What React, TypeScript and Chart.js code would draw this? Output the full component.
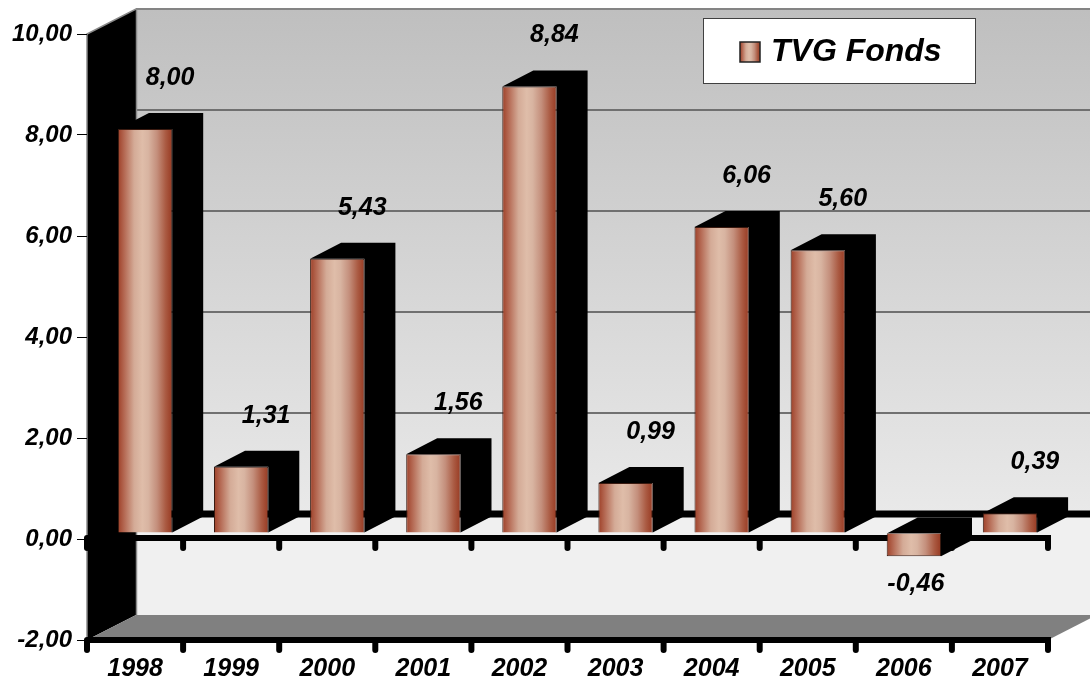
import React, { useEffect, useRef } from 'react';
import { Chart, registerables } from 'chart.js';

Chart.register(...registerables);

// ---- data ----
const years = ['1998', '1999', '2000', '2001', '2002', '2003', '2004', '2005', '2006', '2007'];
const fundReturns = [8.0, 1.31, 5.43, 1.56, 8.84, 0.99, 6.06, 5.6, -0.46, 0.39];
const seriesName = 'TVG Fonds';
const yMin = -2;
const yMax = 10;
const yStep = 2;

// ---- style ----
const FONT = '"Liberation Sans", Arial, Helvetica, sans-serif';
const WALL = { dx: 49, dy: -25 };
const BAR_OFF = { dx: 10, dy: -6 };
const BAR_DEPTH = { dx: 31, dy: -16 };
const BAR_PCT = 0.565;

const fmt = (v: number) => v.toFixed(2).replace('.', ',');

function makeGrad(ctx: CanvasRenderingContext2D, x0: number, x1: number) {
  const g = ctx.createLinearGradient(x0, 0, x1, 0);
  g.addColorStop(0, '#9e4028');
  g.addColorStop(0.12, '#b56a54');
  g.addColorStop(0.3, '#d4ab97');
  g.addColorStop(0.45, '#dfbda9');
  g.addColorStop(0.56, '#d8b4a1');
  g.addColorStop(0.72, '#c48f7c');
  g.addColorStop(0.88, '#aa5a42');
  g.addColorStop(1, '#983a22');
  return g;
}

const threeD = {
  id: 'threeD',
  beforeDraw(chart: any) {
    const { ctx, chartArea: a, scales } = chart;
    const y = scales.y;
    const bx0 = a.left + WALL.dx;
    const bx1 = a.right + WALL.dx;
    const by0 = a.top + WALL.dy;
    const by1 = a.bottom + WALL.dy;
    const zeroBack = y.getPixelForValue(0) + WALL.dy;
    ctx.save();
    // back wall
    const g = ctx.createLinearGradient(0, by0, 0, zeroBack);
    g.addColorStop(0, '#bfbfbf');
    g.addColorStop(1, '#e9e9e9');
    ctx.fillStyle = g;
    ctx.fillRect(bx0, by0, bx1 - bx0, zeroBack - by0);
    ctx.fillStyle = '#f0f0f0';
    ctx.fillRect(bx0, zeroBack, bx1 - bx0, by1 - zeroBack);
    // back gridlines
    ctx.strokeStyle = '#707070';
    ctx.lineWidth = 2;
    for (let v = yMin + yStep; v <= yMax; v += yStep) {
      if (v === 0) continue;
      const py = Math.round(y.getPixelForValue(v) + WALL.dy);
      ctx.beginPath();
      ctx.moveTo(bx0, py);
      ctx.lineTo(bx1, py);
      ctx.stroke();
    }
    // side wall
    ctx.fillStyle = '#000';
    ctx.beginPath();
    ctx.moveTo(a.left, a.top);
    ctx.lineTo(bx0, by0);
    ctx.lineTo(bx0, by1);
    ctx.lineTo(a.left, a.bottom);
    ctx.closePath();
    ctx.fill();
    ctx.strokeStyle = '#8a8a8a';
    ctx.lineWidth = 1.5;
    ctx.beginPath();
    ctx.moveTo(a.left, a.bottom);
    ctx.lineTo(a.left, a.top);
    ctx.lineTo(bx0, by0);
    ctx.lineTo(bx1, by0);
    ctx.stroke();
    ctx.beginPath();
    ctx.moveTo(bx0 + 0.5, by0);
    ctx.lineTo(bx0 + 0.5, by1);
    ctx.stroke();
    // floor
    ctx.fillStyle = '#808080';
    ctx.beginPath();
    ctx.moveTo(a.left, a.bottom);
    ctx.lineTo(bx0, by1);
    ctx.lineTo(bx1, by1);
    ctx.lineTo(a.right, a.bottom);
    ctx.closePath();
    ctx.fill();
    ctx.restore();
  },
  beforeDatasetsDraw(chart: any) {
    const { ctx, chartArea: a, scales } = chart;
    const x = scales.x;
    const y = scales.y;
    const n = years.length;
    const bx0 = a.left + WALL.dx;
    const bx1 = a.right + WALL.dx;
    const zeroBack = y.getPixelForValue(0) + WALL.dy;
    ctx.save();
    // back zero line
    ctx.strokeStyle = '#000';
    ctx.lineWidth = 7;
    ctx.beginPath();
    ctx.moveTo(bx0, zeroBack);
    ctx.lineTo(bx1 + 20, zeroBack);
    ctx.stroke();
    // front axis lines with ticks
    const drawAxisLine = (py: number) => {
      ctx.lineWidth = 6;
      ctx.lineCap = 'butt';
      ctx.beginPath();
      ctx.moveTo(x.left, py);
      ctx.lineTo(x.right + 3, py);
      ctx.stroke();
      ctx.lineCap = 'round';
      for (let i = 0; i <= n; i++) {
        const xb = x.left + (i * x.width) / n;
        ctx.beginPath();
        ctx.moveTo(xb, py);
        ctx.lineTo(xb, py + 10);
        ctx.stroke();
      }
    };
    drawAxisLine(y.getPixelForValue(0) - 1);
    drawAxisLine(y.getPixelForValue(yMin));
    ctx.restore();

    // bar 3D top + side
    const meta = chart.getDatasetMeta(0);
    ctx.save();
    ctx.fillStyle = '#000';
    meta.data.forEach((el: any) => {
      const p = el.getProps(['x', 'y', 'base', 'width'], true);
      const L = p.x - p.width / 2 + BAR_OFF.dx;
      const R = p.x + p.width / 2 + BAR_OFF.dx;
      const T = Math.min(p.y, p.base) + BAR_OFF.dy;
      const B = Math.max(p.y, p.base) + BAR_OFF.dy;
      ctx.beginPath();
      ctx.moveTo(L, T);
      ctx.lineTo(L + BAR_DEPTH.dx, T + BAR_DEPTH.dy);
      ctx.lineTo(R + BAR_DEPTH.dx, T + BAR_DEPTH.dy);
      ctx.lineTo(R + BAR_DEPTH.dx, B + BAR_DEPTH.dy);
      ctx.lineTo(R, B);
      ctx.lineTo(R, T);
      ctx.closePath();
      ctx.fill();
    });
    ctx.restore();

    // shift front faces to their depth
    ctx.save();
    ctx.translate(BAR_OFF.dx, BAR_OFF.dy);
  },
  afterDatasetsDraw(chart: any) {
    const { ctx } = chart;
    ctx.restore();
    // value labels
    const meta = chart.getDatasetMeta(0);
    ctx.save();
    ctx.fillStyle = '#000';
    ctx.font = `italic bold 25px ${FONT}`;
    ctx.textAlign = 'center';
    ctx.textBaseline = 'middle';
    meta.data.forEach((el: any, i: number) => {
      const p = el.getProps(['x', 'y', 'base'], true);
      const v = fundReturns[i];
      const cx = p.x + BAR_OFF.dx;
      if (v >= 0) {
        ctx.fillText(fmt(v), cx + 25, p.y + BAR_OFF.dy - 51);
      } else {
        ctx.fillText(fmt(v), cx + 2, p.y + BAR_OFF.dy + 28);
      }
    });
    ctx.restore();
  },
  afterDraw(chart: any) {
    const { ctx } = chart;
    ctx.save();
    // legend box
    const lx = 703, ly = 18, lw = 272, lh = 65;
    ctx.fillStyle = '#fff';
    ctx.fillRect(lx, ly, lw, lh);
    ctx.strokeStyle = '#404040';
    ctx.lineWidth = 1;
    ctx.strokeRect(lx + 0.5, ly + 0.5, lw, lh);
    ctx.fillStyle = makeGrad(ctx, 740, 760);
    ctx.fillRect(740, 42, 20, 20);
    ctx.strokeStyle = '#222';
    ctx.lineWidth = 1.5;
    ctx.strokeRect(740, 42, 20, 20);
    ctx.fillStyle = '#000';
    ctx.font = `italic bold 32px ${FONT}`;
    ctx.textAlign = 'left';
    ctx.textBaseline = 'middle';
    ctx.fillText(chart.data.datasets[0].label, 771, 52);
    ctx.restore();
  },
};

export default function App() {
  const ref = useRef<HTMLCanvasElement | null>(null);
  useEffect(() => {
    if (!ref.current) return;
    const chart = new Chart(ref.current, {
      type: 'bar',
      data: {
        labels: years,
        datasets: [
          {
            label: seriesName,
            data: fundReturns,
            backgroundColor: (c: any) => {
              const xs = c.chart.scales && c.chart.scales.x;
              if (!xs || !xs.width) return '#d0a090';
              const cx = xs.getPixelForValue(c.dataIndex);
              const w = (xs.width / years.length) * BAR_PCT;
              return makeGrad(c.chart.ctx, cx - w / 2, cx + w / 2);
            },
            borderColor: '#3a1a10',
            borderWidth: 1,
            categoryPercentage: 1,
            barPercentage: BAR_PCT,
          },
        ],
      },
      options: {
        animation: false,
        responsive: false,
        devicePixelRatio: 1,
        layout: { padding: { top: 34, right: 42, left: 0, bottom: 0 } },
        plugins: { legend: { display: false }, tooltip: { enabled: false } },
        scales: {
          x: {
            offset: true,
            grid: { display: false, drawTicks: false },
            border: { display: false },
            ticks: { color: '#000', font: { family: FONT, size: 25, weight: 'bold', style: 'italic' }, padding: 14 },
            afterFit: (s: any) => { s.height = 43; },
          },
          y: {
            min: yMin,
            max: yMax,
            grid: { drawOnChartArea: false, drawTicks: true, tickLength: 10, color: '#000', lineWidth: 1 },
            border: { display: false },
            ticks: {
              stepSize: yStep,
              color: '#000',
              padding: 5,
              font: { family: FONT, size: 24, weight: 'bold', style: 'italic' },
              callback: (v: any) => fmt(Number(v)),
            },
            afterFit: (s: any) => { s.width = 87; },
          },
        },
      },
      plugins: [threeD],
    } as any);
    return () => chart.destroy();
  }, []);
  return (
    <div style={{ position: 'absolute', left: 0, top: 0, width: 1090, height: 683, background: '#fff' }}>
      <canvas ref={ref} width={1090} height={683} />
    </div>
  );
}
